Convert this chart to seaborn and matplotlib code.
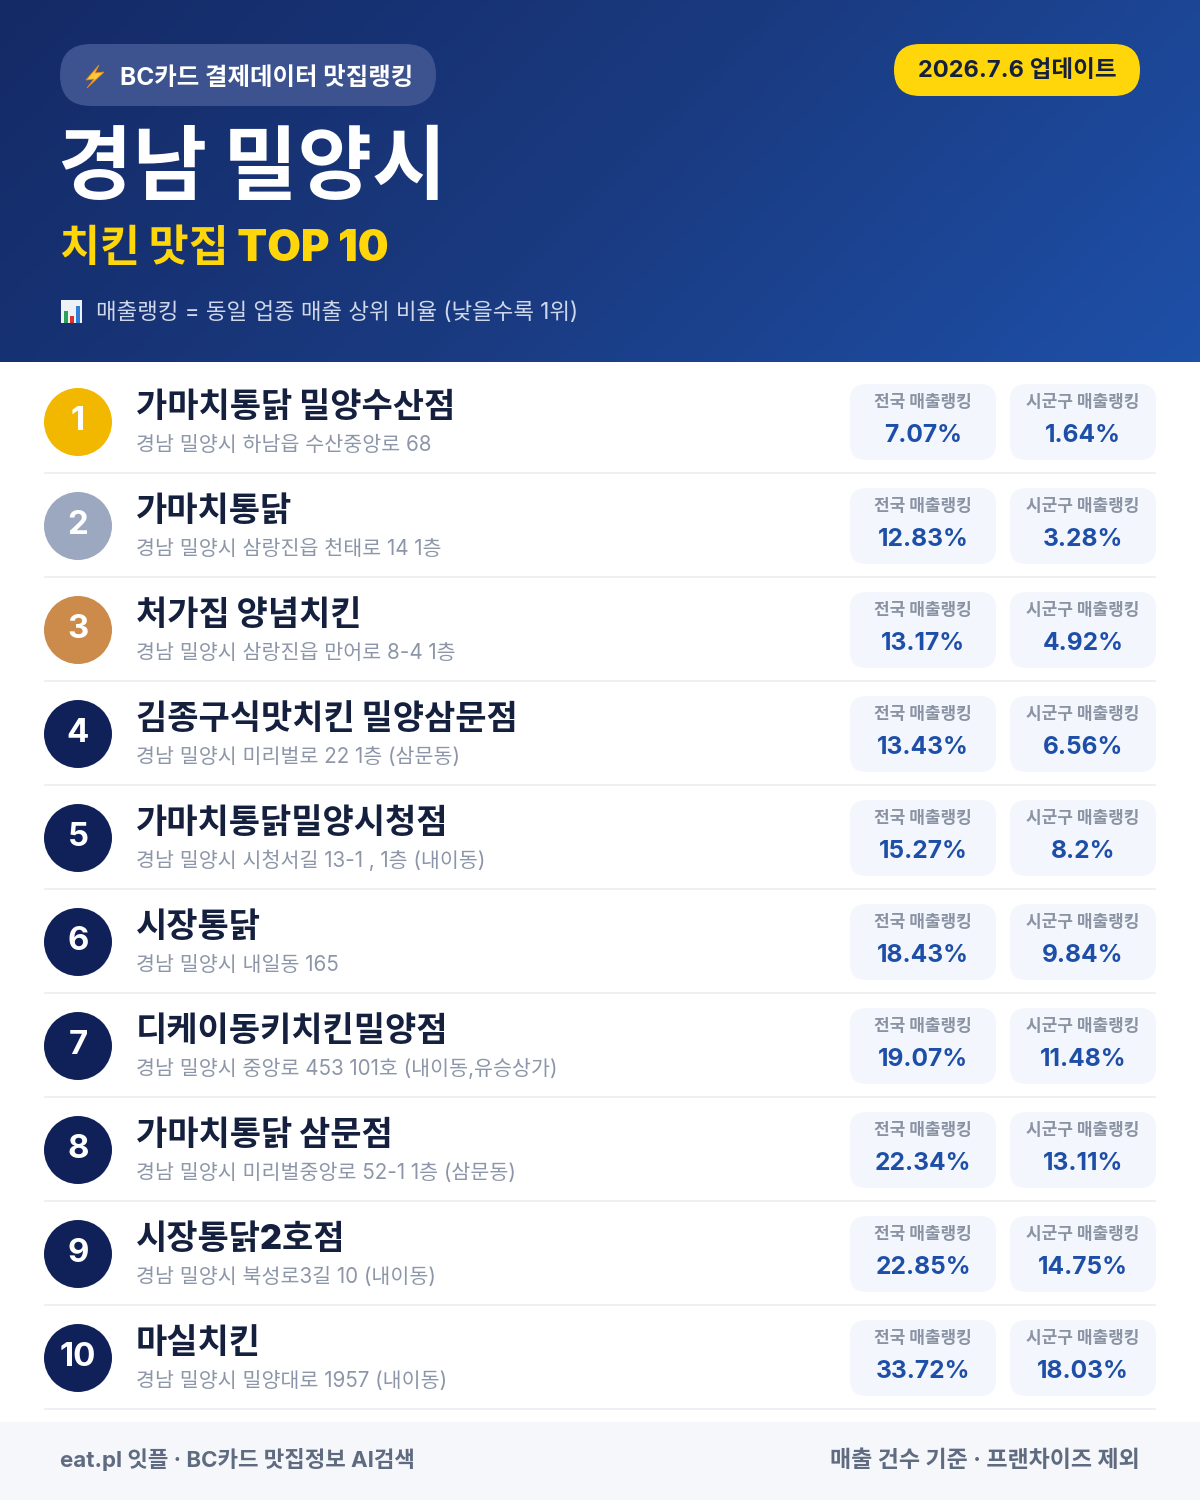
import numpy as np
import pandas as pd
import matplotlib
matplotlib.use("Agg")
import matplotlib.pyplot as plt
import seaborn as sns
from matplotlib.colors import LinearSegmentedColormap
from matplotlib.patches import FancyBboxPatch, Polygon, Rectangle

ranks = list(range(1, 11))
names = ["가마치통닭 밀양수산점", "가마치통닭", "처가집 양념치킨", "김종구식맛치킨 밀양삼문점",
         "가마치통닭밀양시청점", "시장통닭", "디케이동키치킨밀양점", "가마치통닭 삼문점",
         "시장통닭2호점", "마실치킨"]
addresses = ["경남 밀양시 하남읍 수산중앙로 68", "경남 밀양시 삼랑진읍 천태로 14 1층",
             "경남 밀양시 삼랑진읍 만어로 8-4 1층", "경남 밀양시 미리벌로 22 1층 (삼문동)",
             "경남 밀양시 시청서길 13-1 , 1층 (내이동)", "경남 밀양시 내일동 165",
             "경남 밀양시 중앙로 453 101호 (내이동,유승상가)", "경남 밀양시 미리벌중앙로 52-1 1층 (삼문동)",
             "경남 밀양시 북성로3길 10 (내이동)", "경남 밀양시 밀양대로 1957 (내이동)"]
national = [7.07, 12.83, 13.17, 13.43, 15.27, 18.43, 19.07, 22.34, 22.85, 33.72]
local = [1.64, 3.28, 4.92, 6.56, 8.2, 9.84, 11.48, 13.11, 14.75, 18.03]
medal_colors = ["#F2B800", "#9BA8BF", "#CC8B4A"] + ["#0F2158"] * 7

sns.set_theme(style="white")
# 라틴 문자는 Inter, 한글은 Noto
plt.rcParams['font.family'] = ['Inter', 'Noto Sans CJK KR', 'DejaVu Sans']


def px(size):
    # 픽셀 크기를 pt로
    return size * 0.72


def pill(ax, x0, y0, x1, y1, r, color, z=2):
    ax.add_patch(FancyBboxPatch((x0, y0), x1 - x0, y1 - y0, boxstyle=f"round,pad=0,rounding_size={r}",
                                fc=color, ec="none", zorder=z))


fig = plt.figure(figsize=(12, 15), dpi=100, facecolor="white")
ax = fig.add_axes([0, 0, 1, 1])

# 헤더 그라데이션
cmap = LinearSegmentedColormap.from_list("hdr", ["#142A66", "#1A3A80", "#1E50A8"])
xx, yy = np.meshgrid(np.linspace(0, 1, 300), np.linspace(0, 1, 100))
ax.imshow((xx * 1200 + yy * 362) / 1562, cmap=cmap, extent=(0, 1200, 362, 0), aspect="auto", zorder=0)
ax.set_xlim(0, 1200)
ax.set_ylim(1500, 0)
ax.axis("off")

pill(ax, 60, 44, 436, 106, 31, "#3C5390")
ax.add_patch(Polygon([(99, 65), (86, 80), (94, 79), (87, 88), (104, 72), (95, 73)],
                     fc="#FFC83D", ec="#E8890C", lw=0.6, zorder=3))
ax.text(120, 85, "BC카드 결제데이터 맛집랭킹", fontsize=px(24.45), color="white", weight="bold", zorder=3)
pill(ax, 894, 44, 1140, 96, 26, "#FFD60A")
ax.text(1017, 77, "2026.7.6 업데이트", fontsize=px(23.6), color="#14203E", weight="bold", ha="center", zorder=3)
ax.text(58, 193, "경남 밀양시", fontsize=px(81), color="white", weight="black", zorder=3)
ax.text(60, 261, "치킨 맛집 TOP 10", fontsize=px(43.5), color="#FFD60A", weight="black", zorder=3)

# 차트 아이콘
ax.add_patch(Rectangle((61, 300), 21, 23, fc="#EEF2F6", ec="none", zorder=3))
for bx, bh, bc in zip([64, 70, 76], [12, 7, 17], ["#2E9E5B", "#D8342C", "#2F7FD6"]):
    ax.add_patch(Rectangle((bx, 323 - bh), 4, bh, fc=bc, ec="none", zorder=4))
ax.text(96, 319, "매출랭킹 = 동일 업종 매출 상위 비율 (낮을수록 1위)", fontsize=px(22.4), color="#CFD8EA", zorder=3)

rows = pd.DataFrame({"rank": ranks, "name": names, "address": addresses,
                     "national": national, "local": local})
rows["cx"] = 78
rows["cy"] = 422 + (rows["rank"] - 1) * 104

sns.scatterplot(data=rows, x="cx", y="cy", hue="rank", palette=medal_colors, s=px(68) ** 2,
                linewidth=0, legend=False, ax=ax, zorder=3)
ax.set_xlim(0, 1200)
ax.set_ylim(1500, 0)

for row in rows.itertuples():
    y = row.cy
    ax.text(78, y - 4, str(row.rank), fontsize=px(33), color="white", weight="bold",
            ha="center", va="center_baseline", zorder=4)
    ax.text(136, y - 5, row.name, fontsize=px(34), color="#14203E", weight="black", zorder=3)
    ax.text(136, y + 29, row.address, fontsize=px(20.6), color="#8C96A8", zorder=3)
    for x0, lab, val in ((850, "전국 매출랭킹", row.national), (1010, "시군구 매출랭킹", row.local)):
        pill(ax, x0, y - 38, x0 + 146, y + 38, 16, "#F3F6FC")
        ax.text(x0 + 73, y - 15, lab, fontsize=px(17), color="#8A93A3", weight="bold", ha="center", zorder=3)
        ax.text(x0 + 73, y + 19.5, f"{val:g}%", fontsize=px(24.5), color="#1E4FA8", weight="bold", ha="center", zorder=3)
    ax.add_patch(Rectangle((44, y + 50), 1112, 2, fc="#EEF0F3", ec="none", zorder=2))

# 하단
ax.add_patch(Rectangle((0, 1422), 1200, 78, fc="#F6F7FB", ec="none", zorder=1))
ax.text(60, 1467, "eat.pl 잇플 · BC카드 맛집정보 AI검색", fontsize=px(22.3), color="#5F6B80", weight="bold", zorder=3)
ax.text(1140, 1467, "매출 건수 기준 · 프랜차이즈 제외", fontsize=px(23), color="#5F6B80", weight="bold", ha="right", zorder=3)

fig.savefig("out.png", dpi=100)
